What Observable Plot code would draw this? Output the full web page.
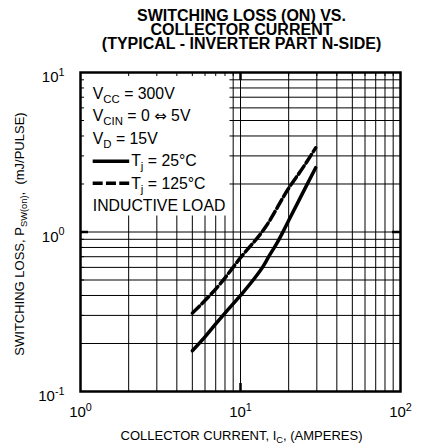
<!DOCTYPE html>
<html><head><meta charset="utf-8">
<script src="https://cdn.jsdelivr.net/npm/d3@7"></script>
<script src="https://cdn.jsdelivr.net/npm/@observablehq/plot@0.6"></script>
<style>body{margin:0;background:#fff} svg{display:block}</style>
</head><body><div id="chart"></div>
<script>
// ---- data ----
const current25 = [5, 6, 7, 8, 10, 12, 14, 15, 17, 18.6, 20, 25, 29.5];
const loss25    = [0.18, 0.22, 0.265, 0.31, 0.40, 0.50, 0.62, 0.70, 0.86, 1.02, 1.18, 1.83, 2.53];
const current125 = [5, 7.5, 10, 14.3, 20, 25, 29.5];
const loss125    = [0.31, 0.476, 0.69, 1.07, 1.88, 2.6, 3.37];
const xMajor = [1, 10, 100];
const yMajor = [0.1, 1, 10];
const xMinor = [2,3,4,5,6,7,8,9,20,30,40,50,60,70,80,90];
const yMinor = [0.2,0.3,0.4,0.5,0.6,0.7,0.8,0.9,2,3,4,5,6,7,8,9];
const titleLines = ["SWITCHING LOSS (ON) VS.", "COLLECTOR CURRENT", "(TYPICAL - INVERTER PART N-SIDE)"];
const legendRows = ["V_{CC} = 300V", "V_{CIN} = 0 ~{\u21D4} 5V", "V_{D} = 15V", "T_{j} = 25°C", "T_{j} = 125°C", "INDUCTIVE LOAD"];
const xLabel = "COLLECTOR CURRENT, I_{C}, (AMPERES)";
const yLabel = "SWITCHING LOSS, P_{SW(on)},  (mJ/PULSE)";

const FONT = "'Liberation Sans', Arial, Helvetica, sans-serif";
const exp = d => "10^{" + Math.round(Math.log10(d)) + "}";
const s25 = current25.map((x, i) => ({x, y: loss25[i]}));
const s125 = current125.map((x, i) => ({x, y: loss125[i]}));

const legendDy = [26, 48.5, 71, 93.5, 116, 138.5];
const legendDx = [12.3, 12.3, 12.3, 50.7, 50.7, 12.3];
const titleDy = [-52, -38, -24];

const W = 426, H = 445, PW = 320, PH = 319;
const chart = Plot.plot({
  width: W, height: H,
  marginLeft: 80, marginRight: 26, marginTop: 72, marginBottom: 54,
  x: {type: "log", domain: [1, 100], axis: null},
  y: {type: "log", domain: [0.1, 10], axis: null},
  style: {background: "white", fontFamily: FONT, color: "#000"},
  marks: [
    Plot.ruleX(xMinor.concat([10]), {stroke: "#000", strokeWidth: 1}),
    Plot.ruleY(yMinor.concat([1]), {stroke: "#000", strokeWidth: 1}),
    Plot.frame({fill: "white", stroke: "none", insetRight: 171, insetBottom: 176}),
    Plot.ruleX(xMinor, {stroke: "#000", insetBottom: PH - 4}),
    Plot.ruleY(yMinor, {stroke: "#000", insetRight: PW - 4}),
    Plot.ruleX([10], {stroke: "#000", strokeWidth: 2.5, insetBottom: PH - 8}),
    Plot.ruleX([10], {stroke: "#000", strokeWidth: 2.5, insetTop: PH - 8}),
    Plot.ruleY([1], {stroke: "#000", strokeWidth: 2.5, insetRight: PW - 8}),
    Plot.ruleY([1], {stroke: "#000", strokeWidth: 2.5, insetLeft: PW - 8}),
    Plot.frame({stroke: "#000", strokeWidth: 2.5}),
    Plot.line(s25, {x: "x", y: "y", stroke: "#000", strokeWidth: 3.5, curve: "monotone-x"}),
    Plot.line(s125, {x: "x", y: "y", stroke: "#000", strokeWidth: 3.5, strokeDasharray: "10,3.5", curve: "monotone-x"}),
    // legend samples
    Plot.ruleY([2.78], {x1: 1.2, x2: 2.03, stroke: "#000", strokeWidth: 3.5}),
    Plot.ruleY([2.02], {x1: 1.2, x2: 2.03, stroke: "#000", strokeWidth: 3.5, strokeDasharray: "10,3.3"}),
    ...legendRows.map((t, i) => Plot.text([t], {text: d => d, frameAnchor: "top-left", textAnchor: "start", lineAnchor: "bottom", dx: legendDx[i], dy: legendDy[i], fontSize: 15.8, fill: "#000"})),
    // tick labels
    Plot.text(xMajor, {x: d => d, text: exp, frameAnchor: "bottom", textAnchor: "middle", lineAnchor: "bottom", dy: 25.5, fontSize: 15, fill: "#000"}),
    Plot.text(yMajor, {y: d => d, text: exp, frameAnchor: "left", textAnchor: "end", lineAnchor: "bottom", dx: -16, dy: 9.5, fontSize: 15, fill: "#000"}),
    // axis labels
    Plot.text([xLabel], {text: d => d, frameAnchor: "bottom", textAnchor: "middle", lineAnchor: "bottom", dy: 48, dx: 1, fontSize: 13, fill: "#000"}),
    Plot.text([yLabel], {text: d => d, frameAnchor: "left", textAnchor: "middle", lineAnchor: "bottom", rotate: -90, dx: -57, dy: 2, fontSize: 13, fill: "#000"}),
    // title
    ...titleLines.map((t, i) => Plot.text([t], {text: d => d, frameAnchor: "top", textAnchor: "middle", lineAnchor: "bottom", dy: titleDy[i], dx: 1, fontSize: 16, fontWeight: "bold", fill: "#000"}))
  ]
});
document.getElementById("chart").appendChild(chart);

// render _{..} ^{..} as sub/superscripts and ~{..} in a symbol font
function richify(svg) {
  const NS = "http://www.w3.org/2000/svg";
  svg.querySelectorAll("text").forEach(t => {
    if (t.querySelector("tspan")) return;
    const s = t.textContent;
    if (!/[_^~]\{/.test(s)) return;
    const fs = parseFloat(getComputedStyle(t).fontSize) || 14;
    t.textContent = "";
    let shift = 0;
    const add = (str, kind) => {
      const ts = document.createElementNS(NS, "tspan");
      ts.textContent = str;
      const target = kind === "_" ? fs * 0.28 : kind === "^" ? -fs * 0.42 : 0;
      const d = target - shift;
      if (d) ts.setAttribute("dy", d.toFixed(2));
      shift = target;
      if (kind === "_" || kind === "^") ts.setAttribute("font-size", (fs * 0.72).toFixed(2));
      if (kind === "~") { ts.setAttribute("font-family", "'DejaVu Sans', sans-serif"); ts.setAttribute("font-size", (fs * 0.95).toFixed(2)); }
      t.appendChild(ts);
    };
    const re = /([_^~])\{([^}]*)\}/g;
    let last = 0, m;
    while ((m = re.exec(s))) {
      if (m.index > last) add(s.slice(last, m.index), null);
      add(m[2], m[1]);
      last = re.lastIndex;
    }
    if (last < s.length) add(s.slice(last), null);
  });
}
richify(chart);
</script>
</body></html>
